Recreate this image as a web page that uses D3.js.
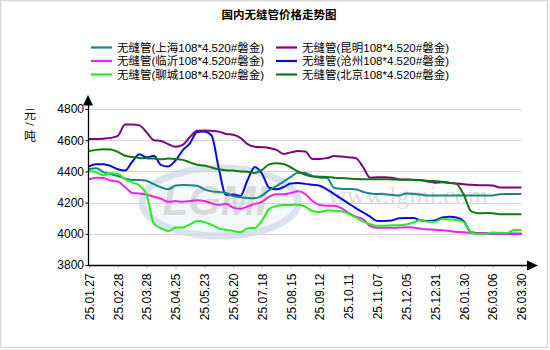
<!DOCTYPE html>
<html><head><meta charset="utf-8">
<script src="https://cdn.jsdelivr.net/npm/d3@7"></script>
<style>
html,body{margin:0;padding:0;background:#fff;}
svg{display:block;}
</style></head>
<body>
<script>
const title = "国内无缝管价格走势图";
const yUnit = ["元", "/", "吨"];
const tickLabels = ["25.01.27","25.02.28","25.03.28","25.04.25","25.05.23","25.06.20","25.07.18","25.08.15","25.09.12","25.10.11","25.11.07","25.12.05","25.12.31","26.01.30","26.03.06","26.03.30"];
const pointsPerTick = 4;
const yTicks = [3800, 4000, 4200, 4400, 4600, 4800];

const seriesNames = ["无缝管(上海108*4.520#磐金)","无缝管(昆明108*4.520#磐金)","无缝管(临沂108*4.520#磐金)","无缝管(沧州108*4.520#磐金)","无缝管(聊城108*4.520#磐金)","无缝管(北京108*4.520#磐金)"];
const seriesColors = ["#1a8585","#800080","#ee22ee","#0a0ae0","#22ee22","#107a10"];

const shanghai = [4415,4420,4395,4382,4370,4355,4345,4345,4340,4318,4298,
  4285,4310,4313,4312,4308,4285,4272,4268,
  4262,4242,4235,4230,4228,4245,4280,4305,4335,4365,4392,
  4390,4370,4360,4358,4295,4288,4287,4285,4270,4258,
  4255,4254,4250,4245,4258,4255,4252,4245,4245,
  4245,4245,4245,4245,4245,4245,4245,4246,4254,4255,4255,4255];
const kunming = [4607,4607,4610,4615,4628,4700,4700,4695,4650,4600,4595,
  4575,4558,4570,4620,4660,4662,4660,4655,
  4640,4635,4615,4575,4558,4555,4550,4538,4512,4522,4530,
  4528,4480,4480,4485,4498,4495,4490,4485,4430,4360,
  4362,4362,4360,4350,4348,4346,4345,4335,4328,
  4330,4326,4322,4318,4314,4312,4312,4310,4297,4296,4296,4296];
const linyi = [4350,4360,4358,4342,4335,4300,4262,4258,4250,4238,4225,
  4205,4210,4205,4210,4215,4210,4195,4185,
  4192,4168,4160,4175,4192,4205,4238,4253,4253,4262,4272,
  4255,4210,4185,4180,4180,4165,4135,4110,4095,4050,
  4038,4038,4038,4040,4042,4040,4032,4028,4026,
  4022,4018,4012,4010,4005,4004,4003,4002,4002,4000,4000,4000];
const cangzhou = [4432,4446,4446,4435,4414,4405,4462,4510,4490,4500,4440,
  4432,4470,4535,4580,4652,4655,4630,4420,
  4250,4252,4242,4345,4428,4385,4295,4285,4300,4322,4325,
  4320,4314,4308,4285,4255,4225,4195,4165,4138,4110,
  4082,4082,4085,4100,4102,4102,4085,4082,4085,
  4105,4110,4105,4080,4010,4004,4003,4002,4002,4000,4000,4000];
const liaocheng = [4402,4395,4375,4388,4385,4350,4330,4310,4250,4065,4035,
  4018,4040,4040,4060,4082,4075,4058,4035,
  4025,4018,4010,4035,4038,4085,4160,4178,4185,4185,4186,
  4174,4145,4140,4150,4148,4145,4130,4105,4080,4062,
  4052,4052,4055,4055,4060,4072,4088,4078,4078,
  4095,4092,4088,4075,4010,3998,4000,4008,4006,4005,4025,4025];
const beijing = [4530,4538,4542,4540,4525,4500,4492,4486,4484,4482,4478,
  4482,4480,4474,4458,4442,4438,4425,4414,
  4408,4405,4400,4398,4390,4410,4445,4452,4448,4425,4400,
  4378,4368,4366,4364,4360,4357,4355,4352,4350,4350,
  4350,4350,4348,4347,4346,4345,4343,4340,4338,
  4333,4328,4318,4250,4145,4132,4133,4132,4126,4125,4125,4125];

const seriesValues = [shanghai, kunming, linyi, cangzhou, liaocheng, beijing];
const drawOrder = [3, 0, 1, 2, 4, 5];

const W = 550, H = 350;
const svg = d3.select("body").append("svg").attr("width", W).attr("height", H);
const FONT = "'Liberation Sans', Arial, 'Noto Sans CJK SC', sans-serif";

svg.append("rect").attr("x",0.5).attr("y",0.5).attr("width",547).attr("height",347)
  .attr("fill","#fff").attr("stroke","#d8d8d8").attr("stroke-width",1.5);

const nPts = (tickLabels.length - 1) * pointsPerTick;
const x = d3.scaleLinear().domain([0, nPts]).range([89, 521.5]);
const y = d3.scaleLinear().domain([3800, 4800]).range([265, 109]);

// title
svg.append("text").attr("x", 279).attr("y", 19).attr("text-anchor","middle")
  .attr("font-family", "'Noto Sans CJK SC', sans-serif").attr("font-size", 11.5).attr("font-weight","bold")
  .attr("fill","#000").text(title);

// legend
const legend = svg.append("g");
seriesNames.forEach((name, i) => {
  const col = i % 2, row = Math.floor(i / 2);
  const lx = col === 0 ? 91 : 276;
  const ly = 47.5 + row * 13.5;
  legend.append("line").attr("x1", lx).attr("x2", lx + 21).attr("y1", ly).attr("y2", ly)
    .attr("stroke", seriesColors[i]).attr("stroke-width", 2.2);
  legend.append("text").attr("x", lx + 26).attr("y", ly + 4.3)
    .attr("font-family", FONT).attr("font-size", 11.5).attr("fill", "#000").text(name);
});

// watermark
const wm = svg.append("g").attr("opacity", 0.55);
wm.append("ellipse").attr("cx", 220).attr("cy", 202).attr("rx", 78).attr("ry", 34)
  .attr("fill", "#eef3f9").attr("stroke", "#b9cde3").attr("stroke-width", 7);
wm.append("text").attr("x", 215).attr("y", 215).attr("text-anchor","middle")
  .attr("font-family", FONT).attr("font-size", 42).attr("font-weight","bold").attr("font-style","italic")
  .attr("fill", "#bcbcbc").text("LGMI");
wm.append("text").attr("x", 328).attr("y", 204)
  .attr("font-family", "'Liberation Serif', serif").attr("font-size", 26)
  .attr("fill", "#c4c4c4").text("www.lgmi.com");

// grid
const grid = svg.append("g");
yTicks.filter(v => v > 3800).forEach(v => {
  grid.append("line").attr("x1", 89).attr("x2", 521.5).attr("y1", Math.round(y(v)) + 0.5).attr("y2", Math.round(y(v)) + 0.5)
    .attr("stroke", "#d4d4d4").attr("stroke-width", 1);
});

// lines
const line = d3.line().x((d, i) => x(i)).y(d => y(d)).curve(d3.curveMonotoneX);
drawOrder.forEach(i => {
  svg.append("path").datum(seriesValues[i]).attr("d", line)
    .attr("fill", "none").attr("stroke", seriesColors[i]).attr("stroke-width", 2)
    .attr("stroke-linejoin", "round");
});

// y axis
const yAxis = svg.append("g").attr("transform", "translate(88.5,0)")
  .call(d3.axisLeft(y).tickValues(yTicks).tickSize(3).tickFormat(d3.format("d")));
yAxis.select(".domain").remove();
yAxis.selectAll(".tick line").attr("stroke", "#000");
yAxis.selectAll(".tick text").attr("font-family", FONT).attr("font-size", 12).attr("fill", "#000").attr("x", -4.5);
svg.append("line").attr("x1", 88.5).attr("x2", 88.5).attr("y1", 265).attr("y2", 104).attr("stroke", "#000").attr("stroke-width", 1.3);
svg.append("path").attr("d", "M88,95 L83,105.5 L93,105.5 Z").attr("fill", "#000");

// x axis
const tickIdx = tickLabels.map((_, i) => i * pointsPerTick);
const xAxis = svg.append("g").attr("transform", "translate(0,265.5)")
  .call(d3.axisBottom(x).tickValues(tickIdx).tickSize(3).tickFormat((d) => tickLabels[d / pointsPerTick]));
xAxis.select(".domain").remove();
xAxis.selectAll(".tick line").attr("stroke", "#bbb");
xAxis.selectAll(".tick text").attr("font-family", FONT).attr("font-size", 12).attr("fill", "#000")
  .attr("text-anchor", "end").attr("transform", "rotate(-90)").attr("x", -8).attr("y", 0).attr("dy", "0.35em");
svg.append("line").attr("x1", 88).attr("x2", 528).attr("y1", 265.5).attr("y2", 265.5).attr("stroke", "#000").attr("stroke-width", 1.3);
svg.append("path").attr("d", "M538,265.5 L527,260.5 L527,270.5 Z").attr("fill", "#000");

// y unit
const yu = svg.append("g").attr("font-family", "'Noto Sans CJK SC', sans-serif").attr("font-size", 12).attr("fill", "#000");
yu.append("text").attr("x", 30).attr("y", 119).attr("text-anchor","middle").text(yUnit[0]);
yu.append("text").attr("x", 30).attr("y", 127).attr("text-anchor","middle").attr("font-size", 9)
  .attr("transform", "rotate(90,30,124)").text(yUnit[1]);
yu.append("text").attr("x", 30).attr("y", 141).attr("text-anchor","middle").text(yUnit[2]);
</script>
</body></html>
